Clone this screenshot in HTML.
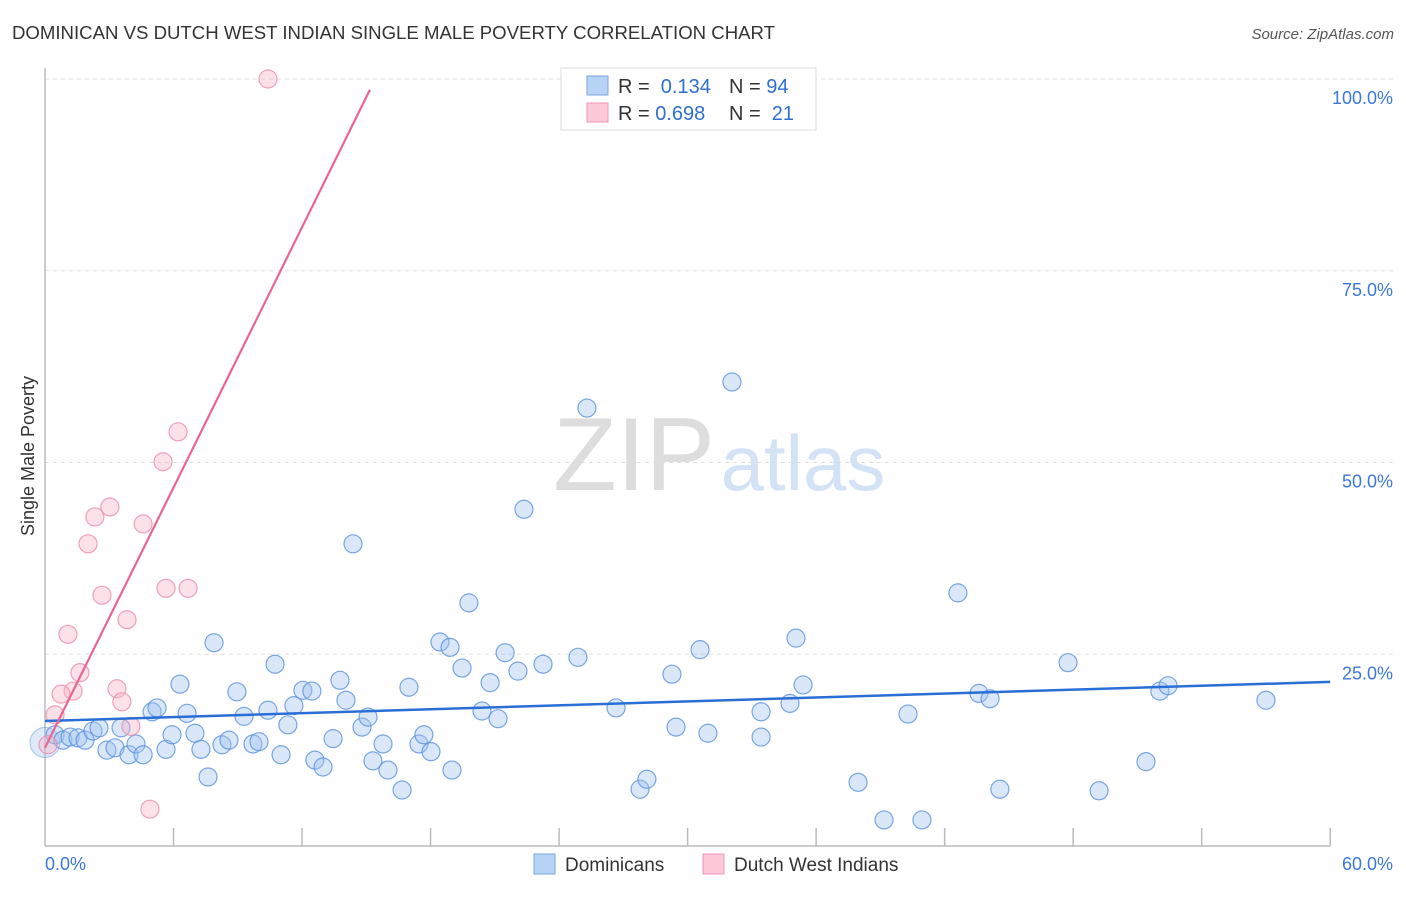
<!DOCTYPE html>
<html><head><meta charset="utf-8">
<style>
body{margin:0;background:#fff;font-family:"Liberation Sans",sans-serif;}
svg text{font-family:"Liberation Sans",sans-serif;}
</style></head>
<body>
<svg width="1406" height="892" viewBox="0 0 1406 892">
<text x="12" y="39" font-size="18" fill="#333" textLength="763" lengthAdjust="spacingAndGlyphs">DOMINICAN VS DUTCH WEST INDIAN SINGLE MALE POVERTY CORRELATION CHART</text>
<text x="1394" y="39" font-size="15" fill="#555" font-style="italic" text-anchor="end">Source: ZipAtlas.com</text>
<g>
<text x="634" y="490" font-size="104" font-family="Liberation Serif" fill="#ddd" text-anchor="middle">ZIP</text>
<text x="803" y="490" font-size="78" fill="#d3e2f5" text-anchor="middle">atlas</text>
</g>
<g id="grid"></g>
<g id="axes"></g>
<g id="marks"></g>
<text x="34" y="456" font-size="18" fill="#333" transform="rotate(-90 34 456)" text-anchor="middle">Single Male Poverty</text>
<g>
<rect x="561" y="68" width="255" height="62" fill="#fff" stroke="#ddd"/>
<rect x="587" y="76" width="21" height="19" fill="#b7d3f5" stroke="#7aa7e0"/>
<rect x="587" y="103" width="21" height="19" fill="#fbc9d8" stroke="#eb98b2"/>
<text x="618" y="93" font-size="20" fill="#333">R = <tspan fill="#2f6fd0">&#160;0.134</tspan></text>
<text x="729" y="93" font-size="20" fill="#333">N = <tspan fill="#2f6fd0">94</tspan></text>
<text x="618" y="120" font-size="20" fill="#333">R = <tspan fill="#2f6fd0">0.698</tspan></text>
<text x="729" y="120" font-size="20" fill="#333">N = <tspan fill="#2f6fd0">&#160;21</tspan></text>
</g>
<g>
<rect x="534" y="854" width="21" height="20" fill="#b7d3f5" stroke="#7aa7e0"/>
<text x="565" y="871" font-size="19" fill="#333">Dominicans</text>
<rect x="703" y="854" width="21" height="20" fill="#fbc9d8" stroke="#eb98b2"/>
<text x="734" y="871" font-size="19" fill="#333">Dutch West Indians</text>
</g>
</svg>
<script>
const blueX=[0.47,0.84,1.17,1.54,1.87,2.24,2.52,2.89,3.27,3.55,3.92,4.25,4.58,5.0,5.23,5.65,5.93,6.3,6.63,7.0,7.28,7.61,7.89,8.26,8.59,8.96,9.29,9.71,9.99,10.41,10.74,11.02,11.34,11.62,12.04,12.46,12.6,12.98,13.45,13.77,14.05,14.38,14.8,15.08,15.31,15.78,16.01,16.67,16.99,17.46,17.69,18.02,18.44,18.91,19.0,19.47,19.79,20.4,20.78,21.15,21.48,22.08,22.36,23.25,24.88,25.3,26.66,27.78,28.1,29.27,29.46,30.58,30.95,32.07,33.43,33.43,34.78,35.06,35.39,37.96,39.17,40.29,40.94,42.62,43.6,44.12,44.58,47.76,49.21,51.4,52.05,52.43,57.0];
const blueY=[14.5,13.8,14.2,14.1,13.8,15.0,15.4,12.5,12.8,15.4,11.9,13.3,11.9,17.5,18.0,12.6,14.5,21.1,17.3,14.7,12.6,9.0,26.5,13.2,13.8,20.1,16.9,13.3,13.6,17.7,23.7,11.9,15.8,18.3,20.3,20.2,11.2,10.3,14.0,21.6,19.0,39.4,15.5,16.8,11.1,13.3,9.9,7.3,20.7,13.3,14.5,12.3,26.6,25.9,9.9,23.2,31.7,17.6,21.3,16.6,25.2,22.8,43.9,23.7,24.6,57.1,18.0,7.4,8.7,22.4,15.5,25.6,14.7,60.5,17.5,14.2,18.6,27.1,21.0,8.3,3.4,17.2,3.4,33.0,19.9,19.2,7.4,23.9,7.2,11.0,20.2,20.9,19.0];
const pinkX=[10.41,6.21,5.51,3.03,2.33,4.58,2.01,5.65,6.68,2.66,3.83,1.07,1.63,3.36,1.31,0.75,0.47,3.59,4.01,4.9,0.14];
const pinkY=[100,54.0,50.1,44.2,42.9,42.0,39.4,33.6,33.6,32.7,29.5,27.6,22.6,20.5,20.2,19.8,17.1,18.8,15.6,4.8,13.2];
const blueTrend=[[0,16.3],[60,21.4]];
const pinkTrend=[[0,12.8],[15.17,98.6]];
const yTicks=[25,50,75,100];
const yTickLabels=["25.0%","50.0%","75.0%","100.0%"];
const X=v=>45+v*21.42, Y=v=>846-v*7.67;
const NS="http://www.w3.org/2000/svg";
function mk(tag,attrs,parent){const e=document.createElementNS(NS,tag);for(const k in attrs)e.setAttribute(k,attrs[k]);document.getElementById(parent).appendChild(e);return e;}
yTicks.forEach((t,i)=>{
 const l=mk('line',{x1:45,x2:1395,y1:Y(t),y2:Y(t),stroke:'#ddd','stroke-dasharray':'4,4'},'grid');
 
 
 const tx=mk('text',{x:1393,y:Y(t)+25,'font-size':18,fill:'#3b78d8','text-anchor':'end'},'axes');
 tx.textContent=yTickLabels[i];
 
 
});
let a=mk('line',{x1:45,x2:45,y1:68,y2:846,stroke:'#bbb','stroke-width':1.5},'axes');


a=mk('line',{x1:45,x2:1330,y1:846,y2:846,stroke:'#bbb','stroke-width':1.5},'axes');


for(let v=6;v<=60;v+=6){const t=mk('line',{x1:X(v),x2:X(v),y1:828,y2:846,stroke:'#bbb','stroke-width':1.5},'axes');
 
 }
let xl=mk('text',{x:45,y:870,'font-size':18,fill:'#3b78d8'},'axes');xl.textContent='0.0%';


xl=mk('text',{x:1393,y:870,'font-size':18,fill:'#3b78d8','text-anchor':'end'},'axes');xl.textContent='60.0%';


let big=mk('circle',{cx:X(0),cy:Y(13.5),r:15,fill:'rgba(160,196,240,0.35)',stroke:'rgba(90,145,220,0.5)'},'marks');


blueX.forEach((x,i)=>{const c=mk('circle',{cx:X(x),cy:Y(blueY[i]),r:9,fill:'rgba(160,196,240,0.4)',stroke:'rgba(90,145,220,0.8)','stroke-width':1.2},'marks');
 
 });
pinkX.forEach((x,i)=>{const c=mk('circle',{cx:X(x),cy:Y(pinkY[i]),r:9,fill:'rgba(248,180,200,0.4)',stroke:'rgba(235,140,170,0.8)','stroke-width':1.2},'marks');
 
 });
let tl=mk('line',{x1:X(blueTrend[0][0]),y1:Y(blueTrend[0][1]),x2:X(blueTrend[1][0]),y2:Y(blueTrend[1][1]),stroke:'#2a6fd6','stroke-width':2.5},'marks');


tl=mk('line',{x1:X(pinkTrend[0][0]),y1:Y(pinkTrend[0][1]),x2:X(pinkTrend[1][0]),y2:Y(pinkTrend[1][1]),stroke:'#e8668f','stroke-width':2.2},'marks');


</script>
</body></html>
